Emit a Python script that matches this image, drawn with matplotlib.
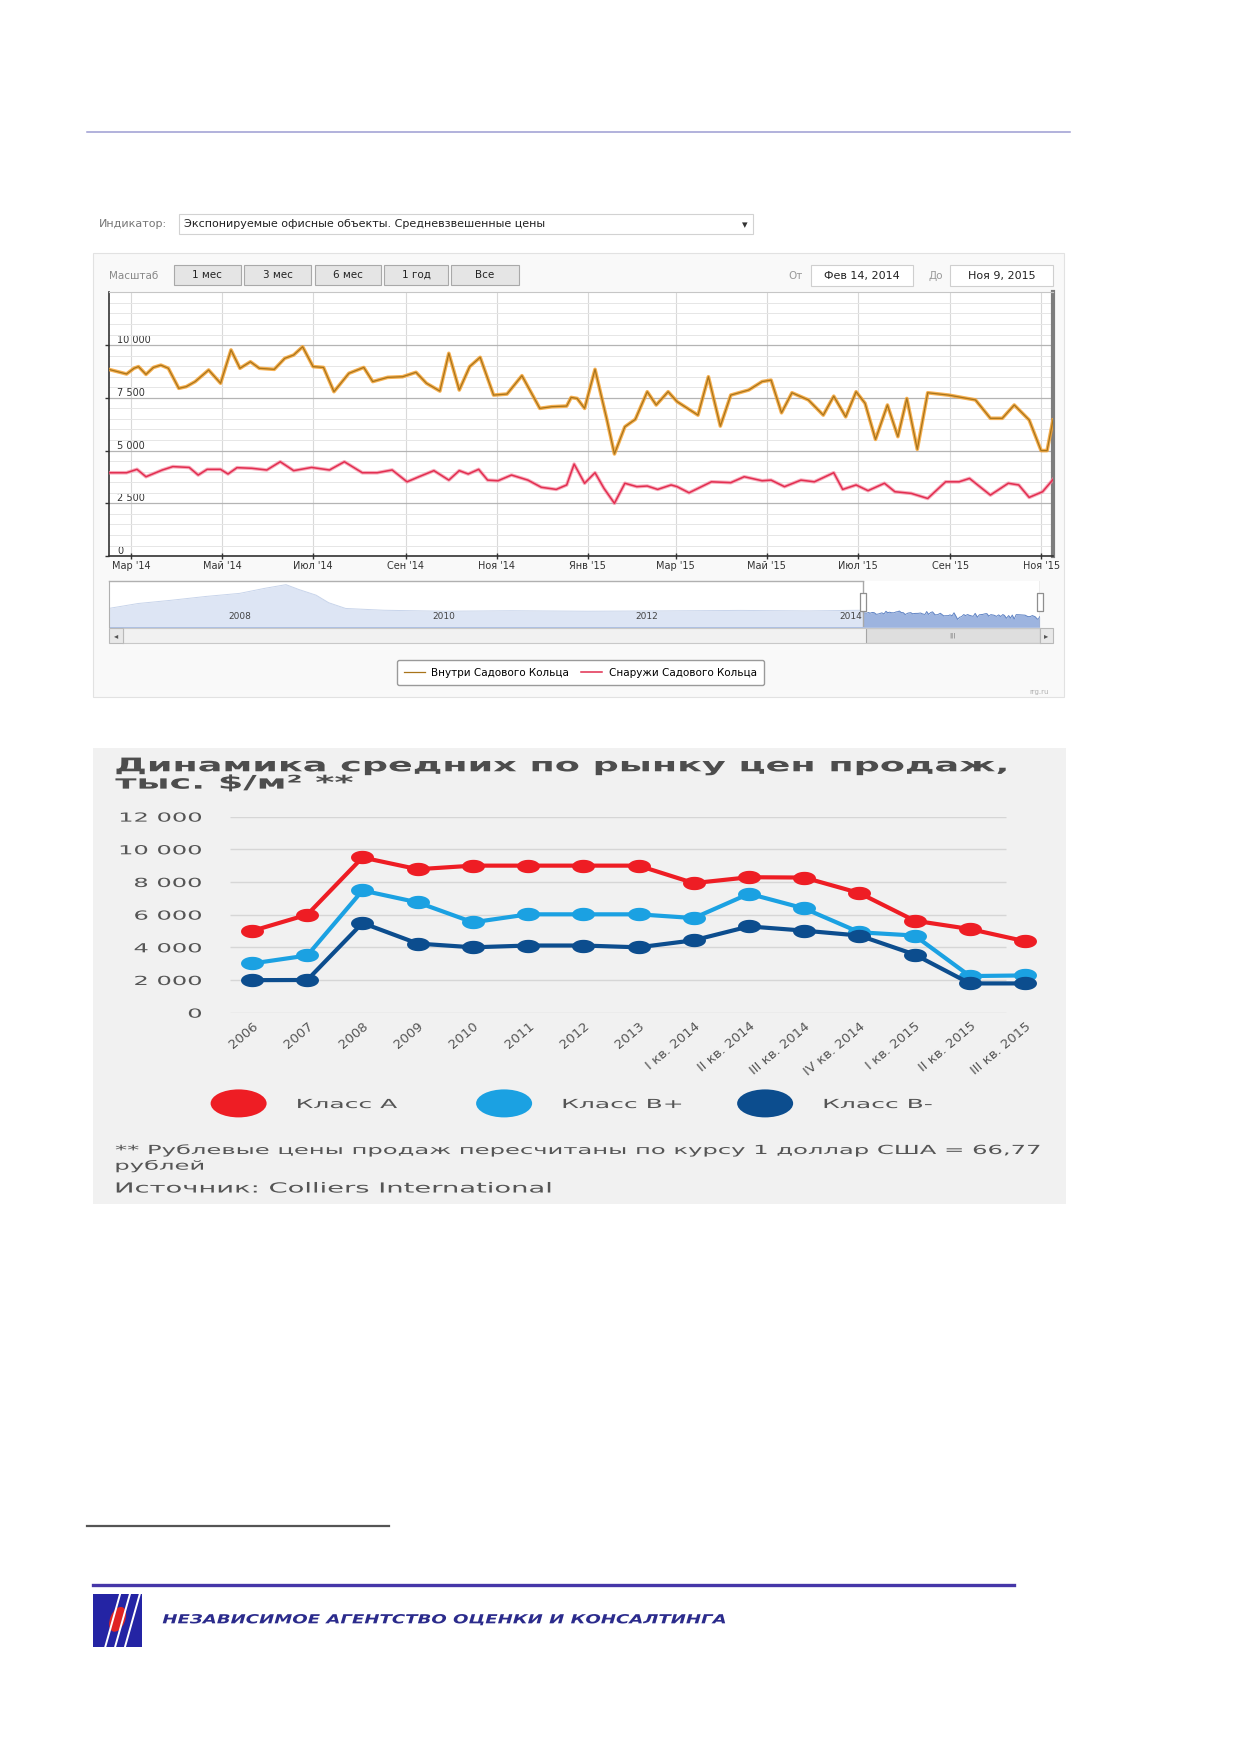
import numpy as np
import pandas as pd
import matplotlib
matplotlib.use("Agg")
import matplotlib.pyplot as plt
import matplotlib.dates as mdates
import matplotlib.patheffects as pe
from matplotlib.patches import Rectangle, Ellipse
from matplotlib.path import Path
from matplotlib.transforms import Affine2D
from matplotlib.lines import Line2D
from matplotlib.ticker import FuncFormatter, MultipleLocator

# --- верхний график: средневзвешенные цены, руб/м2 ---
inner_dates = [
    "2014-02-14", "2014-02-20", "2014-02-26", "2014-03-03", "2014-03-06", "2014-03-11",
    "2014-03-16", "2014-03-21", "2014-03-26", "2014-04-02", "2014-04-07", "2014-04-13",
    "2014-04-22", "2014-04-30", "2014-05-07", "2014-05-13", "2014-05-20", "2014-05-26",
    "2014-06-05", "2014-06-12", "2014-06-18", "2014-06-24", "2014-07-01", "2014-07-08",
    "2014-07-15", "2014-07-25", "2014-08-04", "2014-08-10", "2014-08-20", "2014-08-30",
    "2014-09-08", "2014-09-15", "2014-09-24", "2014-09-30", "2014-10-07", "2014-10-14",
    "2014-10-21", "2014-10-30", "2014-11-08", "2014-11-18", "2014-11-30", "2014-12-08",
    "2014-12-18", "2014-12-21", "2014-12-25", "2014-12-30",
    "2015-01-06", "2015-01-14", "2015-01-19", "2015-01-26", "2015-02-02", "2015-02-10",
    "2015-02-16", "2015-02-24", "2015-03-02", "2015-03-16", "2015-03-23", "2015-03-31",
    "2015-04-07", "2015-04-19", "2015-04-28", "2015-05-04", "2015-05-11", "2015-05-18",
    "2015-05-29", "2015-06-08", "2015-06-15", "2015-06-23", "2015-06-30", "2015-07-06",
    "2015-07-13", "2015-07-21", "2015-07-28", "2015-08-03", "2015-08-10", "2015-08-17",
    "2015-08-31", "2015-09-18", "2015-09-28", "2015-10-06", "2015-10-14", "2015-10-24",
    "2015-11-01", "2015-11-05", "2015-11-09",
]
inner_vals = [
    8850, 8740, 8630, 8900, 8980, 8610, 8940, 9050, 8900, 7950, 8030, 8270,
    8820, 8190, 9770, 8900, 9210, 8900, 8850, 9370, 9530, 9920, 8980, 8940,
    7790, 8660, 8940, 8270, 8470, 8500, 8710, 8190, 7820, 9610, 7870, 8980,
    9420, 7630, 7680, 8550, 7000, 7080, 7110, 7520, 7470, 7000,
    8850, 6450, 4840, 6130, 6480, 7790, 7160, 7790, 7320, 6680, 8500, 6160,
    7630, 7870, 8270, 8340, 6790, 7740, 7400, 6680, 7580, 6600, 7790, 7240,
    5530, 7160, 5660, 7470, 5060, 7740, 7630, 7400, 6530, 6530, 7160, 6450,
    5000, 5000, 6450,
]

outer_dates = [
    "2014-02-14", "2014-02-26", "2014-03-05", "2014-03-11", "2014-03-22", "2014-03-29",
    "2014-04-09", "2014-04-15", "2014-04-21", "2014-04-30", "2014-05-05", "2014-05-11",
    "2014-05-21", "2014-05-31", "2014-06-09", "2014-06-18", "2014-06-30", "2014-07-12",
    "2014-07-22", "2014-08-03", "2014-08-13", "2014-08-23", "2014-09-02", "2014-09-10",
    "2014-09-20", "2014-09-30", "2014-10-07", "2014-10-13", "2014-10-20", "2014-10-26",
    "2014-11-02", "2014-11-11", "2014-11-22", "2014-12-01", "2014-12-11", "2014-12-18",
    "2014-12-23", "2014-12-30",
    "2015-01-06", "2015-01-12", "2015-01-19", "2015-01-26", "2015-02-03", "2015-02-10",
    "2015-02-17", "2015-02-26", "2015-03-02", "2015-03-10", "2015-03-25", "2015-04-07",
    "2015-04-16", "2015-04-28", "2015-05-04", "2015-05-13", "2015-05-24", "2015-06-02",
    "2015-06-15", "2015-06-21", "2015-06-30", "2015-07-08", "2015-07-19", "2015-07-26",
    "2015-08-06", "2015-08-17", "2015-08-29", "2015-09-07", "2015-09-14", "2015-09-28",
    "2015-10-10", "2015-10-17", "2015-10-24", "2015-11-02", "2015-11-09",
]
outer_vals = [
    3950, 3950, 4110, 3760, 4080, 4240, 4200, 3840, 4110, 4110, 3890, 4190,
    4160, 4080, 4470, 4050, 4200, 4080, 4470, 3950, 3950, 4080, 3520, 3760,
    4050, 3600, 4050, 3890, 4110, 3600, 3570, 3840, 3600, 3260, 3160, 3370,
    4360, 3450,
    3950, 3210, 2500, 3450, 3290, 3320, 3160, 3370, 3290, 3000, 3520, 3480,
    3760, 3570, 3600, 3290, 3600, 3520, 3950, 3160, 3370, 3100, 3450, 3050,
    2970, 2730, 3520, 3520, 3680, 2890, 3450, 3370, 2780, 3050, 3630,
]

# история для навигатора (до начала выбранного периода)
nav_hist_dates = [
    "2006-09-18", "2007-01-01", "2007-05-01", "2007-09-01", "2008-01-01", "2008-04-01",
    "2008-06-15", "2008-08-01", "2008-10-01", "2008-11-15", "2009-01-15", "2009-06-01",
    "2010-01-01", "2010-09-01", "2011-06-01", "2012-03-01", "2012-12-01", "2013-08-01",
    "2014-02-07",
]
nav_hist_vals = [
    11500, 14500, 16500, 18800, 20700, 23800, 26000, 23000, 19600, 15000, 11500, 10400,
    9800, 10100, 9800, 10000, 10300, 10000, 10400,
]

range_from = "2014-02-14"
range_to = "2015-11-09"
nav_from = "2006-09-18"

RU_MONTHS = ["Янв", "Фев", "Мар", "Апр", "Май", "Июн", "Июл", "Авг", "Сен", "Окт", "Ноя", "Дек"]
scale_buttons = ["1 мес", "3 мес", "6 мес", "1 год", "Все"]

# --- нижний график: цены продаж, $/м2 ---
periods = ["2006", "2007", "2008", "2009", "2010", "2011", "2012", "2013",
           "I кв. 2014", "II кв. 2014", "III кв. 2014", "IV кв. 2014",
           "I кв. 2015", "II кв. 2015", "III кв. 2015"]
class_a = [5000, 6000, 9500, 8780, 9000, 9000, 9000, 9000, 7930, 8290, 8270, 7320, 5630, 5120, 4370]
class_bp = [3010, 3500, 7480, 6750, 5530, 6020, 6020, 6020, 5790, 7280, 6380, 4920, 4720, 2240, 2280]
class_bm = [1990, 2000, 5490, 4230, 4000, 4110, 4110, 4000, 4430, 5280, 5020, 4720, 3560, 1790, 1790]
class_names = ["Класс А", "Класс B+", "Класс B-"]
class_colors = ["#ee1d24", "#1ba1e2", "#0c4d8e"]
price_ticks = [0, 2000, 4000, 6000, 8000, 10000, 12000]

plt.rcParams["font.family"] = ["DejaVu Sans"]

# размеры макета страницы (в координатах исходной картинки)
W, H = 1106.0, 1564.0


def fx(x):
    return x / W


def fy(y):
    return 1 - y / H


def box(x0, y0, x1, y1):
    return [x0 / W, 1 - y1 / H, (x1 - x0) / W, (y1 - y0) / H]


class Stretch(pe.AbstractPathEffect):
    """растягивает текст по горизонтали (картинка в документе растянута)"""

    def __init__(self, sx, anchor="left"):
        super().__init__()
        self.sx = sx
        self.anchor = anchor

    def draw_path(self, renderer, gc, tpath, affine, rgbFace=None):
        ext = tpath.get_extents(affine)
        x0 = ext.x1 if self.anchor == "right" else ext.x0
        st = affine + Affine2D().translate(-x0, 0).scale(self.sx, 1).translate(x0, 0)
        renderer.draw_path(gc, tpath, st, rgbFace)


fig = plt.figure(figsize=(12.39, 17.52), dpi=100)
fig.patch.set_facecolor("white")


def panel(x0, y0, x1, y1, fc, ec, lw=0.8, z=-5):
    p = Rectangle((fx(x0), fy(y1)), (x1 - x0) / W, (y1 - y0) / H,
                  transform=fig.transFigure, facecolor=fc, edgecolor=ec,
                  linewidth=lw, zorder=z)
    fig.add_artist(p)


def hline(x0, x1, y, color, lw):
    fig.add_artist(Line2D([fx(x0), fx(x1)], [fy(y), fy(y)], transform=fig.transFigure,
                          color=color, lw=lw))


# линии страницы
hline(78, 955, 118, "#9d9dd2", 1.1)
hline(78, 347, 1362, "#555555", 1.6)
hline(83, 905, 1415, "#4536a8", 2.4)

# --- шапка верхнего графика ---
fig.text(fx(88), fy(200), "Индикатор:", fontsize=8, color="#777777", va="center")
panel(160, 191, 672, 209, "white", "#d2d2d2", z=1)
fig.text(fx(164), fy(200), "Экспонируемые офисные объекты. Средневзвешенные цены",
         fontsize=8, color="#222222", va="center")
fig.text(fx(665), fy(201), "▾", fontsize=8, color="#333333", va="center", ha="center")

panel(83, 226, 950, 622, "#f9f9f9", "#e2e2e2")
fig.text(fx(97), fy(246), "Масштаб", fontsize=7.5, color="#888888", va="center")
btn_x = [(155, 215), (218, 278), (281, 340), (343, 400), (403, 463)]
for (b0, b1), lab in zip(btn_x, scale_buttons):
    panel(b0, 237, b1, 254, "#e5e5e5", "#a9a9a9", z=1)
    fig.text(fx((b0 + b1) / 2), fy(245.5), lab, fontsize=7.5, color="#222222",
             ha="center", va="center")

fig.text(fx(710), fy(246), "От", fontsize=7.5, color="#999999", va="center", ha="center")
panel(724, 237, 815, 255, "white", "#cfcfcf", z=1)
fig.text(fx(769.5), fy(246), "Фев 14, 2014", fontsize=8, color="#222222", ha="center", va="center")
fig.text(fx(835), fy(246), "До", fontsize=7.5, color="#999999", va="center", ha="center")
panel(848, 237, 940, 255, "white", "#cfcfcf", z=1)
fig.text(fx(894), fy(246), "Ноя 9, 2015", fontsize=8, color="#222222", ha="center", va="center")

# --- основной график ---
inner_x = pd.to_datetime(inner_dates)
outer_x = pd.to_datetime(outer_dates)
t0 = pd.Timestamp(range_from)
t1 = pd.Timestamp(range_to)

ax = fig.add_axes(box(97, 260.4, 940, 496.4))
ax.set_facecolor("white")
ax.set_xlim(t0, t1)
ax.set_ylim(0, 12530)

ax.plot(inner_x, inner_vals, color="#f5a232", lw=2.6, alpha=0.85, solid_joinstyle="round", zorder=3)
l_in, = ax.plot(inner_x, inner_vals, color="#a8741a", lw=0.9, solid_joinstyle="round", zorder=4)
ax.plot(outer_x, outer_vals, color="#f5889f", lw=2.6, alpha=0.7, solid_joinstyle="round", zorder=3)
l_out, = ax.plot(outer_x, outer_vals, color="#e22e50", lw=1.1, solid_joinstyle="round", zorder=4)

ax.set_yticks([0, 2500, 5000, 7500, 10000])
ax.yaxis.set_minor_locator(MultipleLocator(500))
ax.yaxis.set_major_formatter(FuncFormatter(lambda v, p: f"{v:,.0f}".replace(",", " ")))
ax.grid(axis="y", which="major", color="#b4b4b4", lw=0.9)
ax.grid(axis="y", which="minor", color="#e6e6e6", lw=0.7)
ax.tick_params(axis="y", which="major", length=3, width=1, color="#333333",
               pad=-9, labelsize=7, labelcolor="#333333")
ax.tick_params(axis="y", which="minor", length=0)
for t in ax.get_yticklabels():
    t.set_horizontalalignment("left")
    t.set_verticalalignment("bottom")

ax.xaxis.set_major_locator(mdates.MonthLocator(bymonth=[1, 3, 5, 7, 9, 11]))
ax.xaxis.set_major_formatter(FuncFormatter(
    lambda v, p: f"{RU_MONTHS[mdates.num2date(v).month - 1]} '{mdates.num2date(v).year % 100:02d}"))
ax.grid(axis="x", which="major", color="#d9d9d9", lw=0.8)
ax.tick_params(axis="x", direction="inout", length=5, width=1, color="#333333",
               labelsize=7, labelcolor="#333333", pad=1)
ax.set_axisbelow(True)
for s in ("left", "bottom"):
    ax.spines[s].set_color("#333333")
    ax.spines[s].set_linewidth(1.2)
ax.spines["top"].set_color("#c6c6c6")
ax.spines["top"].set_linewidth(0.8)
ax.spines["right"].set_color("#7d7d7d")
ax.spines["right"].set_linewidth(3)

ax.legend([l_in, l_out], ["Внутри Садового Кольца", "Снаружи Садового Кольца"],
          ncol=2, loc="center", bbox_to_anchor=(fx(518), fy(600.5)),
          bbox_transform=fig.transFigure, fontsize=7.5, frameon=True, fancybox=True,
          edgecolor="#9a9a9a", facecolor="white", framealpha=1, handlelength=2.0,
          columnspacing=1.2, handletextpad=0.6, borderpad=0.7)

# --- навигатор ---
nav_x = pd.to_datetime(nav_hist_dates).append(inner_x)
nav_y = nav_hist_vals + inner_vals
n0 = pd.Timestamp(nav_from)

axn = fig.add_axes(box(97, 519, 928, 560))
axn.set_facecolor("white")
axn.set_xlim(n0, t1)
axn.set_ylim(0, 28000)
axn.fill_between(nav_x, nav_y, color="#9db4df", lw=0, zorder=1)
axn.plot(nav_x, nav_y, color="#5f83c4", lw=0.7, zorder=1.2)
axn.axvspan(n0, t0, color="white", alpha=0.66, lw=0, zorder=1.5)
axn.plot([n0, t0], [1, 1], transform=axn.get_xaxis_transform(), color="#b0b0b0",
         lw=1, clip_on=False, zorder=4)
axn.axvline(t0, color="#a8a8a8", lw=1, zorder=4)
axn.axvline(t1, color="#a8a8a8", lw=1, zorder=4)
grip = Path([(-0.35, -1), (0.35, -1), (0.35, 1), (-0.35, 1), (-0.35, -1)])
axn.plot([t0, t1], [0.55, 0.55], transform=axn.get_xaxis_transform(), ls="none",
         marker=grip, ms=13, mfc="white", mec="#8f8f8f", mew=0.9, zorder=5, clip_on=False)
axn.xaxis.set_major_locator(mdates.YearLocator(2))
axn.xaxis.set_major_formatter(mdates.DateFormatter("%Y"))
axn.tick_params(axis="x", length=0, pad=-11, labelsize=6.5, labelcolor="#444444")
axn.set_yticks([])
for s in ("top", "right", "bottom"):
    axn.spines[s].set_visible(False)
axn.spines["left"].set_color("#b0b0b0")

# скроллбар
axs = fig.add_axes(box(110, 561, 928, 574))
axs.set_facecolor("#f1f1f1")
axs.set_xlim(n0, t1)
axs.axvspan(t0, t1, facecolor="#dedede", edgecolor="#a5a5a5", lw=0.8)
axs.text(t0 + (t1 - t0) / 2, 0.5, "|||", transform=axs.get_xaxis_transform(),
         fontsize=4.5, color="#777777", ha="center", va="center")
axs.set_xticks([])
axs.set_yticks([])
for s in axs.spines.values():
    s.set_color("#c8c8c8")
panel(97, 561, 110, 574, "#e8e8e8", "#b9b9b9", z=1)
panel(928, 561, 940, 574, "#e8e8e8", "#b9b9b9", z=1)
fig.text(fx(103.5), fy(567.5), "◂", fontsize=6, color="#555555", ha="center", va="center")
fig.text(fx(934), fy(567.5), "▸", fontsize=6, color="#555555", ha="center", va="center")
fig.text(fx(928), fy(618), "rrg.ru", fontsize=5, color="#b0b0b0", ha="center", va="center")

# --- нижний график ---
SX = 1.93
panel(83, 668, 952, 1075, "#f1f1f1", "none", lw=0)
fig.text(fx(103), fy(688.5), "Динамика средних по рынку цен продаж,", fontsize=13.5,
         weight="bold", color="#4d4d4d", va="baseline", path_effects=[Stretch(1.95)])
fig.text(fx(103), fy(704), "тыс. $/м² **", fontsize=13.5, weight="bold",
         color="#4d4d4d", va="baseline", path_effects=[Stretch(1.95)])

step = 49.29
ax2 = fig.add_axes(box(205, 729, 925, 904))
ax2.patch.set_visible(False)
ax2.set_xlim((205 - 225) / step, (925 - 225) / step)
ax2.set_ylim(0, 12000)
xs = np.arange(len(periods))
ax2.hlines(price_ticks, (205 - 225) / step, (898 - 225) / step, color="#d6d6d6", lw=1, zorder=0)

th = np.linspace(0, 2 * np.pi, 48)
oval = Path(np.column_stack([1.8 * np.cos(th), np.sin(th)]), closed=True)
for vals, col in zip([class_a, class_bp, class_bm], class_colors):
    ax2.plot(xs, vals, color=col, lw=3.0, marker=oval, ms=15.5, mfc=col, mec=col,
             solid_joinstyle="round", clip_on=False, zorder=3)

ax2.set_yticks(price_ticks)
ax2.set_yticklabels([f"{v:,.0f}".replace(",", " ") for v in price_ticks])
ax2.tick_params(axis="y", length=0, pad=20, labelsize=9, labelcolor="#555555")
for t in ax2.get_yticklabels():
    t.set_path_effects([Stretch(SX, "right")])
ax2.set_xticks(xs)
ax2.set_xticklabels(periods, rotation=40, ha="right", rotation_mode="anchor")
ax2.tick_params(axis="x", length=0, pad=5, labelsize=9.5, labelcolor="#555555")
for s in ax2.spines.values():
    s.set_visible(False)

# легенда нижнего графика
leg_x = [213, 450, 683]
for cx, col, name in zip(leg_x, class_colors, class_names):
    fig.add_artist(Ellipse((fx(cx), fy(985)), 50 / W, 25 / H, transform=fig.transFigure,
                           facecolor=col, edgecolor="none"))
    fig.text(fx(cx + 52), fy(986), name, fontsize=9, color="#555555", va="center",
             path_effects=[Stretch(2.0)])

fig.text(fx(103), fy(1027), "** Рублевые цены продаж пересчитаны по курсу 1 доллар США = 66,77",
         fontsize=9, color="#555555", va="center", path_effects=[Stretch(1.94)])
fig.text(fx(103), fy(1041), "рублей", fontsize=9, color="#555555", va="center",
         path_effects=[Stretch(1.94)])
fig.text(fx(103), fy(1061), "Источник: Colliers International", fontsize=10,
         color="#555555", va="center", path_effects=[Stretch(1.97)])

# --- колонтитул ---
axl = fig.add_axes(box(83, 1423, 127, 1470))
axl.set_facecolor("#2424a4")
axl.set_xlim(0, 1)
axl.set_ylim(0, 1)
for xa, xb in [(0.55, 0.25), (0.75, 0.45), (0.95, 0.65)]:
    axl.plot([xa, xb], [1.0, 0.0], color="white", lw=1.4)
axl.add_patch(Ellipse((0.5, 0.52), 0.3, 0.5, angle=-25, facecolor="#e02424", edgecolor="none"))
axl.set_xticks([])
axl.set_yticks([])
for s in axl.spines.values():
    s.set_visible(False)

fig.text(fx(145), fy(1446), "НЕЗАВИСИМОЕ АГЕНТСТВО ОЦЕНКИ И КОНСАЛТИНГА", fontsize=9,
         weight="bold", style="italic", color="#2b2b8c", va="center",
         path_effects=[Stretch(1.45)])

fig.savefig("out.png", dpi=100, facecolor="white")
plt.close(fig)
